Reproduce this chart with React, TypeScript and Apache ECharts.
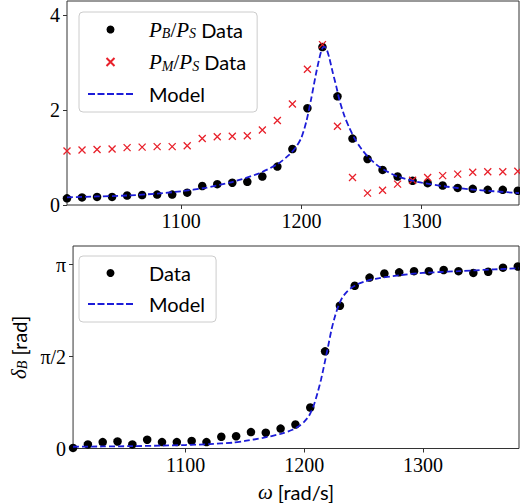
import React, { useEffect, useRef } from 'react';
import * as echarts from 'echarts';

// Measured frequencies (rad/s)
const omega = [
  1005, 1017.5, 1030, 1042.5, 1055, 1067.5, 1080, 1092.5, 1105, 1117.5, 1130,
  1142.5, 1155, 1167.5, 1180, 1192.5, 1205, 1217.5, 1230, 1242.5, 1255, 1267.5,
  1280, 1292.5, 1305, 1317.5, 1330, 1342.5, 1355, 1367.5, 1380,
];
// P_B / P_S data
const ratioB = [
  0.14, 0.16, 0.17, 0.17, 0.2, 0.21, 0.22, 0.22, 0.26, 0.4, 0.44, 0.47, 0.49,
  0.6, 0.81, 1.18, 2.04, 3.33, 2.29, 1.4, 0.97, 0.74, 0.6, 0.51, 0.46, 0.41,
  0.36, 0.34, 0.32, 0.32, 0.3,
];
// P_M / P_S data
const ratioM = [
  1.14, 1.16, 1.17, 1.18, 1.21, 1.22, 1.23, 1.23, 1.25, 1.4, 1.44, 1.45, 1.46,
  1.58, 1.78, 2.13, 2.86, 3.38, 1.66, 0.58, 0.25, 0.31, 0.44, 0.52, 0.58, 0.62,
  0.65, 0.69, 0.7, 0.7, 0.71,
];
// delta_B phase data (rad)
const phase = [
  0.01, 0.07, 0.11, 0.12, 0.07, 0.15, 0.11, 0.11, 0.13, 0.11, 0.2, 0.21, 0.28,
  0.27, 0.34, 0.41, 0.7, 1.66, 2.44, 2.78, 2.92, 2.99, 3.01, 3.03, 3.03, 3.05,
  3.03, 3.0, 3.02, 3.09, 3.11,
];
// Model curve for amplitude ratio
const modelOmega = [
  1005, 1030, 1055, 1080, 1100, 1120, 1140, 1150, 1165, 1180, 1190, 1196, 1200,
  1204, 1208, 1212, 1215, 1217, 1219, 1221, 1223, 1226, 1229, 1232, 1236, 1240,
  1245, 1250, 1256, 1265, 1280, 1300, 1320, 1340, 1360, 1381,
];
const modelRatio = [
  0.16, 0.18, 0.2, 0.24, 0.29, 0.36, 0.47, 0.54, 0.67, 0.86, 1.06, 1.24, 1.42,
  1.75, 2.22, 2.75, 3.1, 3.28, 3.34, 3.28, 3.12, 2.8, 2.5, 2.18, 1.86, 1.62,
  1.37, 1.18, 1.0, 0.8, 0.6, 0.47, 0.39, 0.33, 0.29, 0.25,
];
// Model curve for phase
const phaseModelOmega = [
  1005, 1030, 1055, 1080, 1100, 1120, 1140, 1150, 1165, 1180, 1190, 1196, 1200,
  1204, 1208, 1211, 1214, 1217, 1220, 1223, 1226, 1229, 1232, 1236, 1240, 1245,
  1252, 1260, 1280, 1300, 1330, 1360, 1381,
];
const phaseModel = [
  0.03, 0.035, 0.04, 0.05, 0.06, 0.075, 0.1, 0.13, 0.18, 0.25, 0.32, 0.39, 0.46,
  0.56, 0.74, 0.94, 1.17, 1.45, 1.74, 2.04, 2.27, 2.45, 2.58, 2.68, 2.75, 2.81,
  2.86, 2.9, 2.96, 3.0, 3.03, 3.06, 3.08,
];
// Tick positions and labels
const omegaTicks = [1100, 1200, 1300];
const ampTicks = [0, 2, 4];
const phaseTicks = [0, Math.PI / 2, Math.PI];
const phaseTickLabels = ['0', 'π/2', 'π'];

const BLACK = '#000000';
const RED = '#e8202a';
const BLUE = '#1c1cd8';
const FRAME = '#333333';
const SERIF = "'Liberation Serif', 'DejaVu Serif', serif";
const SANS = 'Lato';

const pair = (xs: number[], ys: number[]) => xs.map((x, i) => [x, ys[i]]);

const rich = {
  m: { fontFamily: SERIF, fontStyle: 'italic', fontSize: 21, lineHeight: 22, color: BLACK },
  u: { fontFamily: SERIF, fontSize: 21, lineHeight: 22, color: BLACK },
  s: {
    fontFamily: SERIF,
    fontStyle: 'italic',
    fontSize: 14,
    lineHeight: 9,
    verticalAlign: 'bottom',
    color: BLACK,
  },
  t: { fontFamily: SANS, fontSize: 20, lineHeight: 22, color: BLACK },
};

const tickFont = { fontFamily: SERIF, fontSize: 20, color: BLACK };

const legendLabels: Record<string, string> = {
  pb: '{m|P}{s|B}{u|/}{m|P}{s|S}{t| Data}',
  pm: '{m|P}{s|M}{u|/}{m|P}{s|S}{t| Data}',
  model: '{t|Model}',
  phase: '{t|Data}',
  phaseModel: '{t|Model}',
};

const crossPath = 'path://M0,0L10,10M10,0L0,10';
const dashPath =
  'path://M0,0H7V2H0Z M9.5,0H16.5V2H9.5Z M19,0H26V2H19Z M28.5,0H35.5V2H28.5Z M38,0H45V2H38Z';

export default function App() {
  const ref = useRef<HTMLDivElement>(null);
  useEffect(() => {
    if (!ref.current) return;
    const chart = echarts.init(ref.current, null, { renderer: 'svg' });
    const axisTick = (vals: number[]) => ({
      show: true,
      length: 4,
      inside: false,
      lineStyle: { color: FRAME, width: 1 },
      customValues: vals,
    });
    const legendCommon = {
      orient: 'vertical',
      left: 79,
      itemWidth: 45,
      itemHeight: 8,
      itemGap: 11,
      padding: [7, 11, 8, 9],
      backgroundColor: 'rgba(255,255,255,0.85)',
      borderColor: '#cccccc',
      borderWidth: 1,
      borderRadius: 4,
      selectedMode: false,
      formatter: (n: string) => legendLabels[n],
      textStyle: { rich, padding: [0, 0, 0, 11] },
    };
    chart.setOption({
      animation: false,
      backgroundColor: '#ffffff',
      textStyle: { fontFamily: SERIF, color: BLACK },
      grid: [
        { left: 67, top: 1, width: 452, height: 204, show: true, borderColor: FRAME, borderWidth: 1, backgroundColor: 'transparent' },
        { left: 67, top: 246, width: 452, height: 203, show: true, borderColor: FRAME, borderWidth: 1, backgroundColor: 'transparent' },
      ],
      legend: [
        { ...legendCommon, top: 12, data: [
          { name: 'pb', icon: 'circle' },
          { name: 'pm', icon: crossPath },
          { name: 'model', icon: dashPath },
        ] },
        { ...legendCommon, top: 256, data: [
          { name: 'phase', icon: 'circle' },
          { name: 'phaseModel', icon: dashPath },
        ] },
      ],
      xAxis: [
        {
          gridIndex: 0, type: 'value', min: 1005, max: 1381,
          axisLine: { show: false }, splitLine: { show: false },
          axisTick: axisTick(omegaTicks),
          axisLabel: { ...tickFont, margin: 6, customValues: omegaTicks, formatter: (v: number) => String(v) },
        },
        {
          gridIndex: 1, type: 'value', min: 1005, max: 1381,
          axisLine: { show: false }, splitLine: { show: false },
          axisTick: axisTick(omegaTicks),
          axisLabel: { ...tickFont, margin: 6, customValues: omegaTicks, formatter: (v: number) => String(v) },
          name: '{m|ω}{t| [rad/s]}',
          nameLocation: 'middle',
          nameGap: 32,
          nameTextStyle: { rich },
        },
      ],
      yAxis: [
        {
          gridIndex: 0, type: 'value', min: 0, max: 4.3,
          axisLine: { show: false }, splitLine: { show: false },
          axisTick: axisTick(ampTicks),
          axisLabel: { ...tickFont, margin: 7, customValues: ampTicks, formatter: (v: number) => String(v) },
        },
        {
          gridIndex: 1, type: 'value', min: 0, max: 3.46,
          axisLine: { show: false }, splitLine: { show: false },
          axisTick: axisTick(phaseTicks),
          axisLabel: {
            ...tickFont, margin: 7, customValues: phaseTicks,
            formatter: (v: number) => {
              const k = phaseTicks.findIndex((t) => Math.abs(t - v) < 1e-6);
              return k < 0 ? '' : phaseTickLabels[k];
            },
          },
          name: '{m|δ}{s|B}{t| [rad]}',
          nameLocation: 'middle',
          nameGap: 42,
          nameTextStyle: { rich },
        },
      ],
      series: [
        {
          name: 'pb', type: 'scatter', xAxisIndex: 0, yAxisIndex: 0,
          symbol: 'circle', symbolSize: 8.5,
          itemStyle: { color: BLACK, opacity: 1 },
          data: pair(omega, ratioB), z: 3,
        },
        {
          name: 'pm', type: 'scatter', xAxisIndex: 0, yAxisIndex: 0,
          symbol: crossPath, symbolSize: 7,
          itemStyle: { color: 'none', borderColor: RED, borderWidth: 1.3, opacity: 1 },
          data: pair(omega, ratioM), z: 3,
        },
        {
          name: 'model', type: 'line', xAxisIndex: 0, yAxisIndex: 0,
          symbol: 'none', showSymbol: false, smooth: 0.25,
          lineStyle: { color: BLUE, width: 1.8, type: [6, 3] },
          itemStyle: { color: BLUE },
          data: pair(modelOmega, modelRatio), z: 4,
        },
        {
          name: 'phase', type: 'scatter', xAxisIndex: 1, yAxisIndex: 1,
          symbol: 'circle', symbolSize: 8.5,
          itemStyle: { color: BLACK, opacity: 1 },
          data: pair(omega, phase), z: 3,
        },
        {
          name: 'phaseModel', type: 'line', xAxisIndex: 1, yAxisIndex: 1,
          symbol: 'none', showSymbol: false, smooth: 0.25,
          lineStyle: { color: BLUE, width: 1.8, type: [6, 3] },
          itemStyle: { color: BLUE },
          data: pair(phaseModelOmega, phaseModel), z: 4,
        },
      ],
    });
    return () => chart.dispose();
  }, []);
  return (
    <div
      ref={ref}
      style={{ position: 'absolute', left: 0, top: 0, width: 520, height: 503 }}
    />
  );
}
